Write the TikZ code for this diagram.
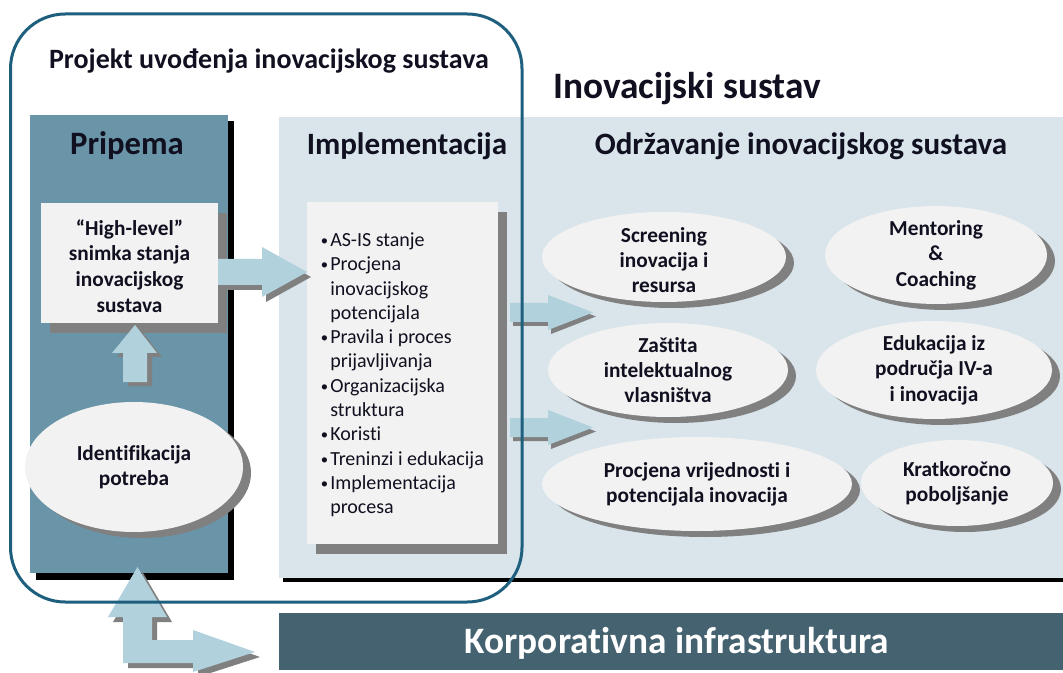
\documentclass[tikz,border=0pt]{standalone}
\usepackage{fontspec}
\setmainfont{Carlito}[Ligatures=NoCommon]
\usetikzlibrary{shapes.geometric,shadows}
\definecolor{frame}{HTML}{1D5F7D}
\definecolor{prip}{HTML}{6A95A8}
\definecolor{panel}{HTML}{D9E5EB}
\definecolor{barc}{HTML}{44626F}
\definecolor{arr}{HTML}{B1D1DD}
\definecolor{boxc}{HTML}{F2F2F2}
\definecolor{shad}{HTML}{808080}
\definecolor{txt}{HTML}{101020}
\tikzset{
  ell/.style={ellipse, fill=boxc, inner sep=0pt, text=txt, align=center,
    font=\bfseries\fontsize{16}{19}\selectfont,
    drop shadow={shadow xshift=6pt, shadow yshift=-4.5pt, fill=shad, opacity=1}},
  gbox/.style={rectangle, fill=boxc, inner sep=0pt,
    drop shadow={shadow xshift=7pt, shadow yshift=-7.5pt, fill=shad, opacity=1}},
  head/.style={text=txt, inner sep=0pt, font=\bfseries\fontsize{23.3}{27}\selectfont},
  bartext/.style={text=white, inner sep=0pt, font=\bfseries\fontsize{28}{32}\selectfont},
  bul/.style={text=txt, inner sep=0pt, anchor=base west, font=\fontsize{15}{18}\selectfont},
  arrfill/.style={fill=arr},
  arrshad/.style={fill=shad}
}
\begin{document}
\begin{tikzpicture}[x=0.75pt,y=-0.75pt]
\useasboundingbox (0,0) rectangle (1063,673);
% Pripema column
\fill[black] (36,121) rectangle (234,580);
\fill[prip] (30,115) rectangle (228,573);
% main panel
\fill[black] (283,122) rectangle (1063,582);
\fill[panel] (279,117) rectangle (1063,578);
% bottom bar
\fill[barc] (279,613) rectangle (1063,670);

% boxes
\node[gbox, minimum width=132.75pt, minimum height=90pt] (hl) at (129.5,263) {};
\node[text=txt, align=center, inner sep=0pt, font=\bfseries\fontsize{16}{19.2}\selectfont] (hltext) at (129.5,266) {“High-level”\\snimka stanja\\inovacijskog\\sustava};
\node[gbox, minimum width=143.25pt, minimum height=256.5pt] (impl) at (402.5,373) {};

% ellipses
\node[ell, minimum width=163.5pt, minimum height=97.5pt] (ident) at (134,467) {Identifikacija\\potreba};
\node[ell, minimum width=183pt, minimum height=67.5pt] (scr) at (664,257) {};
\node[text=txt, align=center, inner sep=0pt, font=\bfseries\fontsize{16}{19}\selectfont] (scrt) at (664,260) {Screening\\inovacija i\\resursa};
\node[ell, minimum width=166.5pt, minimum height=64.5pt] (ment) at (936,255) {Mentoring\\\&\\Coaching};
\node[ell, minimum width=180pt, minimum height=70.5pt] (zast) at (668,370) {Zaštita\\intelektualnog\\vlasništva};
\node[ell, minimum width=177pt, minimum height=70.5pt] (eduk) at (934,370) {Edukacija iz\\područja IV-a\\i inovacija};
\node[ell, minimum width=232.5pt, minimum height=70.5pt] (proc) at (697,484) {Procjena vrijednosti i\\potencijala inovacija};
\node[ell, minimum width=144pt, minimum height=64.5pt] (krat) at (957,483) {Kratkoročno\\poboljšanje};

% bullet list
\foreach \i/\b/\t in {0/1/AS-IS stanje, 1/1/Procjena, 2/0/inovacijskog, 3/0/potencijala,
  4/1/Pravila i proces, 5/0/prijavljivanja, 6/1/Organizacijska, 7/0/struktura,
  8/1/Koristi, 9/1/Treninzi i edukacija, 10/1/Implementacija, 11/0/procesa}{
  \node[bul] (li\i) at (330,246.5+24.3*\i) {\t};
  \ifnum\b=1 \node[bul] (bu\i) at (320.5,245.5+24.3*\i) {\fontsize{11}{11}\selectfont •};\fi
}

% block arrows
% high-level -> implementation
\fill[arrshad, shift={(4,5)}] (218,259) -- (262,259) -- (262,247) -- (307,272) -- (262,297) -- (262,285) -- (218,285) -- cycle;
\fill[arrfill] (218,259) -- (262,259) -- (262,247) -- (307,272) -- (262,297) -- (262,285) -- (218,285) -- cycle;
% identifikacija -> high-level
\fill[arrshad, shift={(5,4)}] (123,382) -- (123,353) -- (112,353) -- (135,325) -- (157,353) -- (147,353) -- (147,382) -- cycle;
\fill[arrfill] (123,382) -- (123,353) -- (112,353) -- (135,325) -- (157,353) -- (147,353) -- (147,382) -- cycle;
% implementation -> maintenance
\foreach \d in {0,115}{
  \fill[arrshad, shift={(3,4)}] (510,303+\d) -- (548,303+\d) -- (548,295+\d) -- (593,312.5+\d) -- (548,330+\d) -- (548,322+\d) -- (510,322+\d) -- cycle;
  \fill[arrfill] (510,303+\d) -- (548,303+\d) -- (548,295+\d) -- (593,312.5+\d) -- (548,330+\d) -- (548,322+\d) -- (510,322+\d) -- cycle;
}
% bottom L arrow
\fill[arrshad, shift={(5,5)}] (137.5,567) -- (167,617) -- (152,617) -- (152,640) -- (193,640) -- (193,630) -- (255,652) -- (193,672) -- (193,663) -- (123,663) -- (123,617) -- (108,617) -- cycle;
\fill[arrfill] (137.5,567) -- (167,617) -- (152,617) -- (152,640) -- (193,640) -- (193,630) -- (255,652) -- (193,672) -- (193,663) -- (123,663) -- (123,617) -- (108,617) -- cycle;

% headings
\node[text=txt, inner sep=0pt, font=\bfseries\fontsize{21}{24}\selectfont] (tproj) at (269,61) {Projekt uvođenja inovacijskog sustava};
\node[text=txt, inner sep=0pt, font=\bfseries\fontsize{28}{32}\selectfont] (tinov) at (687,89) {Inovacijski sustav};
\node[text=txt, inner sep=0pt, font=\bfseries\fontsize{24.5}{28}\selectfont] (tprip) at (127,146) {Pripema};
\node[head] (timpl) at (407,146) {Implementacija};
\node[head] (todr) at (801,146) {Održavanje inovacijskog sustava};
\node[bartext] (tkorp) at (677,643) {Korporativna infrastruktura};

% project frame
\draw[frame, line width=2.25pt, rounded corners=41pt] (10.5,14) rectangle (522,602);
\end{tikzpicture}
\end{document}
